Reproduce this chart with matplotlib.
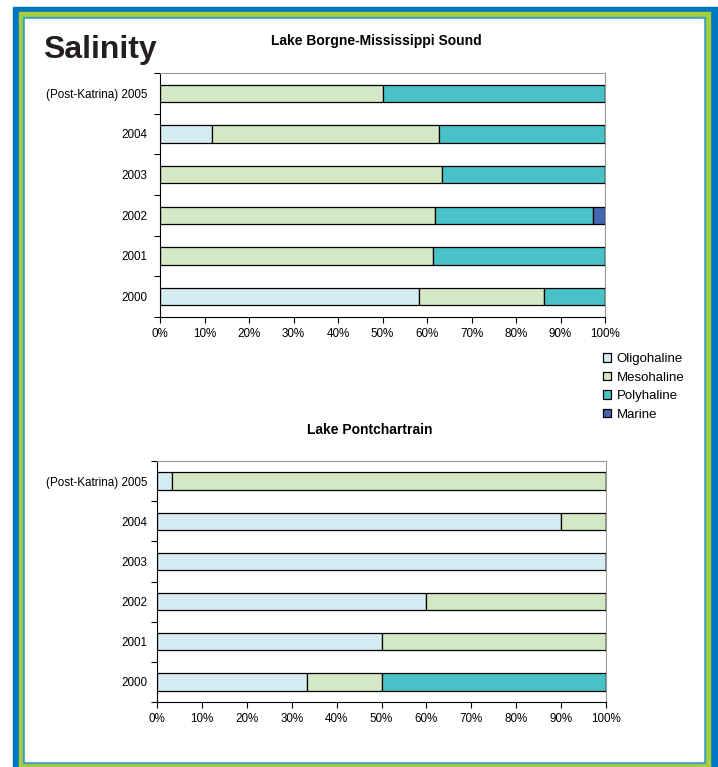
import matplotlib
matplotlib.use("Agg")
import matplotlib.pyplot as plt
from matplotlib.patches import Rectangle, Patch
import numpy as np

plt.rcParams['font.family'] = ['Liberation Sans', 'DejaVu Sans']

W, H = 718, 767

years = ['2000', '2001', '2002', '2003', '2004', '(Post-Katrina) 2005']
classes = ['Oligohaline', 'Mesohaline', 'Polyhaline', 'Marine']
colors = ['#D4ECF2', '#D4E8C6', '#48C2C6', '#4466B0']

# percent of stations in each salinity class, per year (2000 .. 2005)
borgne_oligo = [58.1, 0, 0, 0, 11.6, 0]
borgne_meso = [28.3, 61.4, 61.7, 63.4, 51.1, 50.0]
borgne_poly = [13.6, 38.6, 35.5, 36.6, 37.3, 50.0]
borgne_marine = [0, 0, 2.8, 0, 0, 0]

pont_oligo = [33.4, 50.0, 60.0, 100.0, 90.0, 3.4]
pont_meso = [16.6, 50.0, 40.0, 0, 10.0, 96.6]
pont_poly = [50.0, 0, 0, 0, 0, 0]
pont_marine = [0, 0, 0, 0, 0, 0]


def px_rect(x0, y0, x1, y1):
    # pixel box (top-left origin) -> figure fraction rect
    return [x0 / W, 1 - y1 / H, (x1 - x0) / W, (y1 - y0) / H]


def add_box(fig, box, color, z):
    r = px_rect(*box)
    fig.patches.append(Rectangle(r[:2], r[2], r[3], transform=fig.transFigure,
                                 color=color, zorder=z))


def stacked_chart(ax, series, label_pad):
    y = np.arange(len(years))
    left = np.zeros(len(years))
    for vals, col in zip(series, colors):
        vals = np.array(vals, dtype=float)
        ax.barh(y, vals, left=left, height=0.43, color=col,
                edgecolor='black', linewidth=0.9)
        left += vals
    ax.set_xlim(0, 100)
    ax.set_ylim(-0.5, len(years) - 0.5)
    ax.set_xticks(np.arange(0, 101, 10))
    ax.set_xticklabels([f"{v}%" for v in range(0, 101, 10)])
    ax.set_yticks(y)
    ax.set_yticklabels(years)
    ax.set_yticks(np.arange(-0.5, len(years)), minor=True)
    ax.tick_params(axis='y', which='major', length=0, pad=label_pad,
                   labelsize=8.4)
    ax.tick_params(axis='y', which='minor', length=4, width=0.8)
    ax.tick_params(axis='x', length=4, width=0.8, pad=4, labelsize=8.4)
    for s in ['top', 'right']:
        ax.spines[s].set_color('#999999')
        ax.spines[s].set_linewidth(0.8)
    for s in ['left', 'bottom']:
        ax.spines[s].set_color('black')
        ax.spines[s].set_linewidth(0.8)


fig = plt.figure(figsize=(W / 100, H / 100), dpi=100)

# frame
add_box(fig, (13, 7, 718, 767), '#0077C0', -5)
add_box(fig, (19, 12, 710, 767), '#A6CE39', -4)
add_box(fig, (23, 17, 705, 763), '#3C9FC0', -3)
add_box(fig, (25, 19, 703, 761), 'white', -2)

ax1 = fig.add_axes(px_rect(160, 73, 605, 317))
stacked_chart(ax1, [borgne_oligo, borgne_meso, borgne_poly, borgne_marine], 9)

ax2 = fig.add_axes(px_rect(157, 461, 606, 702))
stacked_chart(ax2, [pont_oligo, pont_meso, pont_poly, pont_marine], 7)

fig.text(43 / W, 1 - 50 / H, 'Salinity', fontsize=23, fontweight='bold',
         color='#231F20', va='center', ha='left')
fig.text(376 / W, 1 - 41 / H, 'Lake Borgne-Mississippi Sound', fontsize=10,
         fontweight='bold', ha='center', va='center')
fig.text(370 / W, 1 - 430 / H, 'Lake Pontchartrain', fontsize=10,
         fontweight='bold', ha='center', va='center')

handles = [Patch(facecolor=c, edgecolor='black', linewidth=0.9) for c in colors]
fig.legend(handles, classes, loc='upper left',
           bbox_to_anchor=(603 / W, 1 - 353 / H), frameon=False,
           fontsize=9.5, handlelength=0.6, handleheight=0.6,
           handletextpad=0.45, labelspacing=0.5, borderpad=0,
           borderaxespad=0)

fig.savefig('out.png', dpi=100)
